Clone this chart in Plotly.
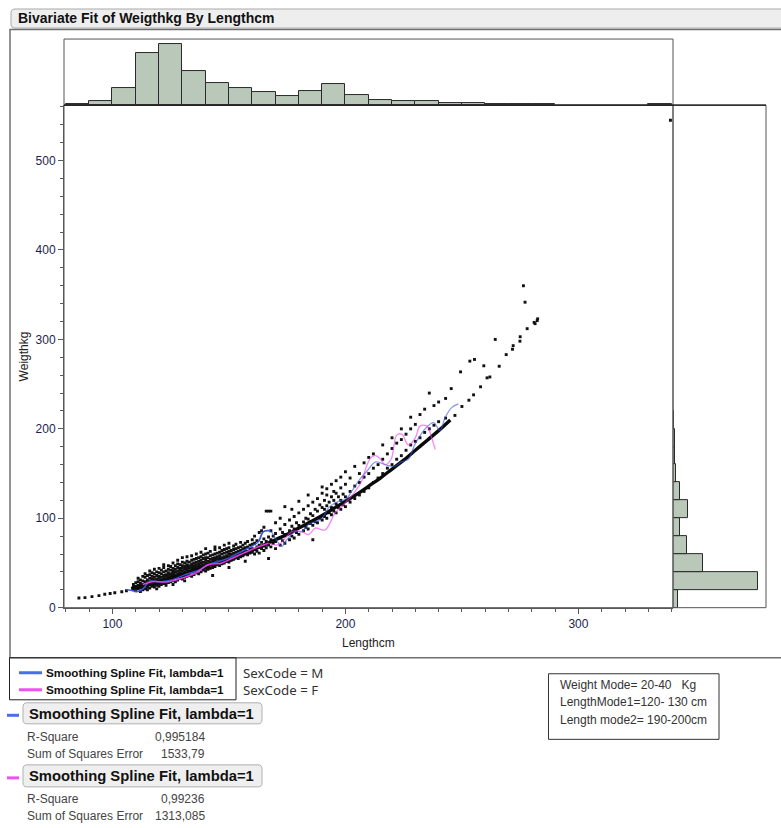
import plotly.graph_objects as go

# ---------------- data ----------------
# Lengthcm histogram (10 cm bins starting at 80)
length_bin_start = list(range(80, 340, 10))
length_counts = [1, 6, 25, 79, 92, 52, 33, 26, 20, 14, 21, 31, 15, 8, 6, 6,
                 3, 3, 1, 1, 1, 0, 0, 0, 0, 1]

# Weigthkg histogram (20 kg bins starting at 0)
weight_bin_start = list(range(0, 240, 20))
weight_counts = [13, 221, 78, 37, 17, 39, 18, 8, 5, 4, 3, 0]

# Observed animals, grouped by length column
col_length = [109, 110, 111, 112, 113, 114, 115, 116, 117, 118, 119, 120, 121,
              122, 123, 124, 125, 126, 127, 128, 129, 130, 131, 132, 133, 134,
              135, 136, 137, 138, 139, 140, 141, 142, 143, 144, 145, 146, 147,
              148, 149, 150, 151, 152, 153, 154, 155, 156, 157, 158, 159, 160,
              161, 162, 163, 164, 165, 166, 167, 168, 169, 170, 172, 173, 174,
              176, 177, 178, 179, 180, 182, 183, 184, 185, 186, 187, 188, 189,
              190, 191, 192, 193, 194, 195, 196, 197, 198, 199, 200, 202, 204,
              206, 208, 210, 212, 214, 216, 218, 220, 222, 224, 226, 228, 230,
              232, 234, 236, 238, 240, 243]
col_weights = [
    [20, 23, 26], [19, 22, 24, 28], [21, 25, 29, 33], [18, 22, 24, 27, 31],
    [20, 23, 26, 30, 35], [21, 24, 27, 29, 34, 38], [20, 23, 25, 28, 31, 36],
    [22, 26, 29, 33, 37, 41], [24, 27, 30, 32, 35, 39],
    [23, 26, 28, 31, 34, 38, 43], [21, 25, 29, 32, 36, 40],
    [24, 27, 30, 33, 35, 39, 44], [26, 29, 31, 34, 38, 42],
    [27, 30, 33, 36, 40, 45, 48], [25, 28, 32, 35, 37, 41],
    [28, 31, 34, 37, 39, 43, 47], [29, 32, 35, 38, 42, 46],
    [26, 30, 33, 36, 39, 41, 44, 50], [29, 34, 37, 40, 43, 47],
    [31, 35, 38, 41, 45, 49, 53], [33, 36, 39, 42, 44, 48],
    [32, 35, 38, 41, 44, 47, 51, 56], [30, 34, 37, 40, 43, 46, 50],
    [35, 38, 42, 45, 48, 52, 57], [36, 39, 41, 44, 47, 51],
    [35, 40, 43, 46, 49, 53, 58], [37, 41, 44, 47, 50, 54],
    [39, 42, 45, 48, 51, 55, 60], [38, 43, 46, 49, 52, 56],
    [40, 44, 47, 50, 53, 57, 62], [42, 45, 48, 51, 55, 59],
    [41, 44, 47, 50, 53, 56, 60, 66], [43, 46, 49, 52, 56, 61],
    [44, 48, 51, 54, 58, 63], [36, 45, 49, 52, 55, 59],
    [46, 50, 53, 56, 60, 65, 68], [48, 51, 54, 57, 61],
    [47, 52, 55, 58, 62, 67], [49, 53, 56, 60, 64],
    [50, 54, 57, 61, 65, 70], [52, 55, 58, 62, 66],
    [45, 51, 54, 57, 60, 63, 67, 72], [53, 57, 60, 64],
    [54, 58, 61, 65, 69], [56, 59, 62, 66, 71], [55, 60, 63, 67],
    [57, 61, 64, 68, 73], [58, 62, 66, 70], [52, 60, 64, 67, 72],
    [59, 63, 68, 74], [61, 65, 70], [62, 66, 71, 76],
    [60, 65, 72, 80], [63, 68, 75], [61, 70, 84], [66, 73, 86],
    [64, 69, 77, 90], [67, 74, 108], [55, 70, 79, 108], [68, 76, 86, 108],
    [72, 80], [66, 74, 83, 95], [70, 78, 88, 100], [75, 84],
    [72, 82, 93, 113], [76, 86, 98], [80, 91, 110], [78, 88, 102], [84, 95],
    [82, 92, 106, 119], [86, 96, 110], [90, 100], [88, 99, 114, 126],
    [94, 105], [76, 92, 103, 118], [96, 110], [95, 108, 122], [100, 115],
    [98, 112, 128, 135], [102, 110, 120], [100, 114, 126, 133], [106, 118],
    [104, 112, 124, 138], [108, 120, 130], [106, 116, 128, 142], [112, 124],
    [110, 120, 134, 146], [115, 127], [113, 124, 138, 152], [118, 130, 145],
    [122, 136, 158], [126, 140, 150], [130, 146, 162], [134, 150, 168],
    [140, 156, 172], [145, 160], [150, 166, 182], [156, 172], [160, 178, 190],
    [166, 184], [170, 188, 200], [176, 194], [182, 200, 213], [186, 205],
    [190, 216], [196, 222], [200, 240], [204, 226], [208, 230], [212, 234],
]

# Large animals above the main cloud
big_length = [245.4, 249.4, 253.4, 255.4, 259.4, 260.8, 264.3, 271.7, 274.9,
              276.4, 277.1, 281.4, 282.3, 339.5]
big_weight = [245, 263.7, 275.7, 277.6, 270.5, 257, 300, 289, 298,
              360, 341.6, 317.6, 321, 545]

# Dense growth trend (thick band) and its sparse ends
trend_length = [108, 110, 115, 120, 125, 130, 135, 140, 145, 150, 155, 160,
                165, 170, 175, 180, 185, 190, 195, 200, 205, 210, 215, 220,
                225, 230, 235, 240, 245]
trend_weight = [21.5, 22.5, 25.5, 29, 33, 37, 41.5, 46, 50, 53, 58.5, 64,
                70, 76, 82, 89, 96, 103, 111, 119, 127, 136, 145, 155,
                165, 176, 187, 198, 210]
end_length = [85.6, 88.2, 91.2, 94.2, 96.7, 99, 101, 104, 106,
              247, 250, 253, 255, 258, 262, 266, 269, 272, 275, 278, 281, 282.5]
end_weight = [10.9, 11.2, 12.4, 13.5, 15, 15.8, 16.7, 17.8, 19,
              215, 225, 232, 238, 247, 258, 270, 283, 293, 303, 312, 319, 323]

# Smoothing spline fits, lambda=1 (SexCode = M, then SexCode = F)
fit_m_length = [106, 109, 111, 113, 115, 116.5, 119, 121, 125.5, 131, 137, 141,
                145.5, 150, 154, 158.4, 162.7, 164.8, 167.7, 169.8, 172.7,
                174.8, 178.4, 181.3, 184.2, 190, 192.7, 197, 200, 202.7, 205.6,
                209, 213, 217, 221, 224, 227, 229.9, 234.2, 237.8, 240.6, 242.8,
                245.7, 248.5]
fit_m_weight = [20, 19, 18, 21, 27, 30, 29, 29, 31, 36.7, 42, 48, 51.7, 55.4, 61,
                66.6, 74, 85, 86, 78, 68.5, 76, 85, 85, 93, 100, 111.6, 119, 121,
                130, 141.6, 152, 163, 160, 158, 163, 166, 183, 200, 207, 198,
                212.7, 224, 228]
fit_f_length = [113, 117, 124, 129.8, 135.5, 141.2, 147, 151.2, 156.3, 161.2,
                167, 171.3, 177, 181.3, 184.2, 187, 191.3, 195.6, 199.9, 204.2,
                207, 209, 211, 213, 215, 217, 219.6, 222, 224.2, 227, 230, 232,
                235, 237, 238.5]
fit_f_weight = [26, 29, 29, 33, 38.5, 48, 50, 55, 61, 66.7, 72, 70.4, 85, 85,
                81.7, 89, 87, 106, 117, 130, 141.6, 158, 168, 170, 166, 160, 166,
                193, 194, 182, 190, 203, 203, 190, 177]
FIT_SPLIT = 165  # fit segments beyond this length are drawn lighter

# ---------------- page geometry helpers ----------------
W_PX, H_PX = 781, 828
Y_STRETCH = 836 / 828  # the page is a little taller than the figure


def fx(x):
    return x / W_PX


def fy(y):
    return 1 - (y * Y_STRETCH) / H_PX


def rounded_rect(x0, y0, x1, y1, r):
    return (f"M {fx(x0 + r)},{fy(y0)} L {fx(x1 - r)},{fy(y0)} "
            f"Q {fx(x1)},{fy(y0)} {fx(x1)},{fy(y0 + r)} L {fx(x1)},{fy(y1 - r)} "
            f"Q {fx(x1)},{fy(y1)} {fx(x1 - r)},{fy(y1)} L {fx(x0 + r)},{fy(y1)} "
            f"Q {fx(x0)},{fy(y1)} {fx(x0)},{fy(y1 - r)} L {fx(x0)},{fy(y0 + r)} "
            f"Q {fx(x0)},{fy(y0)} {fx(x0 + r)},{fy(y0)} Z")


pts_length, pts_weight = [], []
for L, ws in zip(col_length, col_weights):
    for w in ws:
        pts_length.append(L)
        pts_weight.append(w)
pts_length += big_length
pts_weight += big_weight

BAR_FILL = "#b9c8b9"
BAR_LINE = "#2a2a2a"
TICK_COLOR = "#1e1e4e"
AXIS_COLOR = "#5a5a5a"
FONT = "Liberation Sans, Arial, sans-serif"

fig = go.Figure()

# top border histogram
lx = [b + 5 for b, c in zip(length_bin_start, length_counts) if c > 0]
ly = [c for c in length_counts if c > 0]
fig.add_trace(go.Bar(x=lx, y=ly, width=10, xaxis="x2", yaxis="y2",
                     marker=dict(color=BAR_FILL, line=dict(color=BAR_LINE, width=1)),
                     showlegend=False, hoverinfo="skip"))

# right border histogram
wy = [b + 10 for b, c in zip(weight_bin_start, weight_counts) if c > 0]
wx = [c for c in weight_counts if c > 0]
fig.add_trace(go.Bar(x=wx, y=wy, width=20, orientation="h", xaxis="x3", yaxis="y3",
                     marker=dict(color=BAR_FILL, line=dict(color=BAR_LINE, width=1)),
                     showlegend=False, hoverinfo="skip"))

# observations
for xs, ys in [(pts_length, pts_weight), (end_length, end_weight)]:
    fig.add_trace(go.Scatter(x=xs, y=ys, mode="markers",
                             marker=dict(symbol="square", size=2.9, color="#111111"),
                             showlegend=False, hoverinfo="skip"))
fig.add_trace(go.Scatter(x=trend_length, y=trend_weight, mode="lines",
                         line=dict(color="#0a0a0a", width=3.4, shape="spline"),
                         showlegend=False, hoverinfo="skip"))


def add_fit(xs, ys, color):
    lo = [(x, y) for x, y in zip(xs, ys) if x <= FIT_SPLIT + 3]
    hi = [(x, y) for x, y in zip(xs, ys) if x >= FIT_SPLIT - 3]
    for seg, op, wd in [(lo, 0.95, 1.5), (hi, 0.6, 1.3)]:
        fig.add_trace(go.Scatter(x=[p[0] for p in seg], y=[p[1] for p in seg],
                                 mode="lines", opacity=op,
                                 line=dict(color=color, width=wd, shape="spline"),
                                 showlegend=False, hoverinfo="skip"))


add_fit(fit_m_length, fit_m_weight, "#3558d8")
add_fit(fit_f_length, fit_f_weight, "#ee3cee")

# ---------------- axes ----------------
x_dom = [fx(64), fx(673)]
y_dom = [fy(607), fy(105)]
tick_font = dict(family=FONT, size=12, color=TICK_COLOR)

fig.update_layout(
    width=W_PX, height=H_PX,
    margin=dict(l=0, r=0, t=0, b=0),
    paper_bgcolor="white", plot_bgcolor="white",
    bargap=0,
    showlegend=False,
    xaxis=dict(domain=x_dom, range=[79.2, 340.6], anchor="y",
               tickvals=[100, 200, 300], ticks="outside", ticklen=5,
               tickcolor=AXIS_COLOR, showline=True, linecolor=AXIS_COLOR,
               showgrid=False, zeroline=False, tickfont=tick_font,
               minor=dict(dtick=10, tick0=0, ticks="outside", ticklen=3,
                          tickcolor=AXIS_COLOR, showgrid=False)),
    yaxis=dict(domain=y_dom, range=[0, 562], anchor="x",
               tickvals=[0, 100, 200, 300, 400, 500], ticks="outside", ticklen=5,
               tickcolor=AXIS_COLOR, showline=True, linecolor=AXIS_COLOR,
               showgrid=False, zeroline=False, tickfont=tick_font,
               minor=dict(dtick=20, tick0=0, ticks="outside", ticklen=3,
                          tickcolor=AXIS_COLOR, showgrid=False)),
    xaxis2=dict(domain=x_dom, range=[79.2, 340.6], anchor="y2", visible=False),
    yaxis2=dict(domain=[fy(105), fy(39)], range=[0, 99.5], anchor="x2", visible=False),
    xaxis3=dict(domain=[fx(673), fx(766)], range=[0, 242.7], anchor="y3", visible=False),
    yaxis3=dict(domain=y_dom, range=[0, 562], anchor="x3", visible=False),
)

shapes = []
# title bar
shapes.append(dict(type="path", xref="paper", yref="paper",
                   path=rounded_rect(11, 9, 790, 28, 4),
                   fillcolor="#eeeeee", line=dict(color="#a9a9a9", width=1), layer="below"))
# outer report panel
shapes.append(dict(type="rect", xref="paper", yref="paper",
                   x0=fx(10), x1=fx(784), y0=fy(657), y1=fy(29.5),
                   line=dict(color="#6f6f6f", width=1.5), layer="below"))
# frames of the three plot panels
for (a, b, c, d) in [(64, 39, 673, 105), (64, 105, 673, 607), (673, 105, 766, 607)]:
    shapes.append(dict(type="rect", xref="paper", yref="paper",
                       x0=fx(a), x1=fx(c), y0=fy(d), y1=fy(b),
                       line=dict(color="#555555", width=1)))
# histogram baseline
shapes.append(dict(type="line", xref="paper", yref="paper",
                   x0=fx(64), x1=fx(766), y0=fy(105), y1=fy(105),
                   line=dict(color="#111111", width=1.2)))
# legend box
shapes.append(dict(type="rect", xref="paper", yref="paper",
                   x0=fx(9.5), x1=fx(236), y0=fy(699), y1=fy(657),
                   line=dict(color="#222222", width=1)))
shapes.append(dict(type="line", xref="paper", yref="paper",
                   x0=fx(19), x1=fx(42), y0=fy(672), y1=fy(672),
                   line=dict(color="#4a6ee8", width=3)))
shapes.append(dict(type="line", xref="paper", yref="paper",
                   x0=fx(19), x1=fx(42), y0=fy(689), y1=fy(689),
                   line=dict(color="#f050f0", width=3)))
# report headers
for (top, bot, col) in [(702, 723, "#4a6ee8"), (764, 786, "#f050f0")]:
    shapes.append(dict(type="path", xref="paper", yref="paper",
                       path=rounded_rect(23, top, 262, bot, 4),
                       fillcolor="#efefef", line=dict(color="#b0b0b0", width=1)))
    mid = (top + bot) / 2 + 2
    shapes.append(dict(type="line", xref="paper", yref="paper",
                       x0=fx(7), x1=fx(19), y0=fy(mid), y1=fy(mid),
                       line=dict(color=col, width=3)))
# note box
shapes.append(dict(type="rect", xref="paper", yref="paper",
                   x0=fx(548.5), x1=fx(719), y0=fy(738.5), y1=fy(673),
                   line=dict(color="#333333", width=1)))
fig.update_layout(shapes=shapes)

ann = []


def text(x, y, s, size=12, color="#333333", bold=False, family=FONT,
         xanchor="left"):
    ann.append(dict(x=fx(x), y=fy(y), xref="paper", yref="paper", showarrow=False,
                    text=f"<b>{s}</b>" if bold else s, xanchor=xanchor, yanchor="middle",
                    align="left", font=dict(size=size, color=color, family=family)))


text(16, 18, "Bivariate Fit of Weigthkg By Lengthcm", size=14, color="#111111", bold=True)
text(368.5, 642, "Lengthcm", size=12, color="#222222", xanchor="center")
ann.append(dict(x=fx(24), y=fy(356), xref="paper", yref="paper", showarrow=False,
                text="Weigthkg", textangle=-90, xanchor="center", yanchor="middle",
                font=dict(size=12, color="#222222", family=FONT)))

text(44, 672, "Smoothing Spline Fit, lambda=1", size=11.7, color="#111111", bold=True)
text(44, 689, "Smoothing Spline Fit, lambda=1", size=11.7, color="#111111", bold=True)
text(241, 680.5, "SexCode = M<br>SexCode = F", size=13.3, color="#333333",
     family="Noto Sans, DejaVu Sans, sans-serif")

text(27, 713, "Smoothing Spline Fit, lambda=1", size=14.8, color="#111111", bold=True)
text(25, 736, "R-Square", size=12, color="#444444")
text(207, 736, "0,995184", size=12, color="#444444", xanchor="right")
text(25, 753, "Sum of Squares Error", size=12, color="#444444")
text(207, 753, "1533,79", size=12, color="#444444", xanchor="right")

text(27, 775, "Smoothing Spline Fit, lambda=1", size=14.8, color="#111111", bold=True)
text(25, 798, "R-Square", size=12, color="#444444")
text(207, 798, "0,99236", size=12, color="#444444", xanchor="right")
text(25, 815, "Sum of Squares Error", size=12, color="#444444")
text(207, 815, "1313,085", size=12, color="#444444", xanchor="right")

text(558, 684, "Weight Mode= 20-40   Kg", size=12, color="#333333")
text(558, 701, "LengthMode1=120- 130 cm", size=12, color="#333333")
text(558, 719, "Length mode2= 190-200cm", size=12, color="#333333")

fig.update_layout(annotations=ann)

fig.write_html("out.html")
